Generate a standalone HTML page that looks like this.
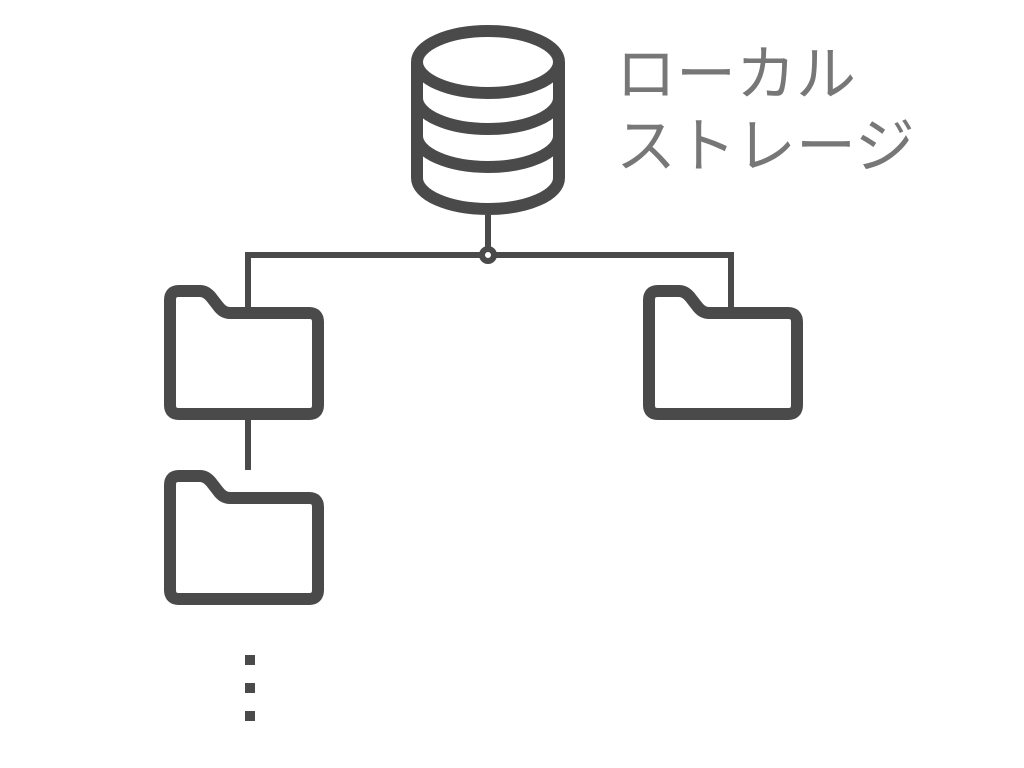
<!DOCTYPE html>
<html><head><meta charset="utf-8"><style>
html,body{margin:0;padding:0;background:#fff;width:1024px;height:768px;overflow:hidden}
.t{position:absolute;left:616px;font-family:"Liberation Sans","Noto Sans CJK JP",sans-serif;font-size:60px;color:#777;line-height:1;letter-spacing:0px}
</style></head><body>
<svg width="1024" height="768" style="position:absolute;left:0;top:0">
<g fill="none" stroke="#4a4a4a" stroke-width="12" stroke-linejoin="round">
<ellipse cx="488" cy="62" rx="71" ry="31"/>
<path d="M417 62 V178 A71 31 0 0 0 559 178 V62"/>
<path d="M417 98 A71 31 0 0 0 559 98"/>
<path d="M417 136 A71 31 0 0 0 559 136"/>
<path d="M170 300 Q170 291 179 291 H200 Q206 291 211 297 L218 306 Q223 313 230 313 H309 Q318 313 318 322 V405 Q318 414 309 414 H179 Q170 414 170 405 Z"/>
<path d="M170 485 Q170 476 179 476 H200 Q206 476 211 482 L218 491 Q223 498 230 498 H309 Q318 498 318 507 V590 Q318 599 309 599 H179 Q170 599 170 590 Z"/>
<path d="M649 300 Q649 291 658 291 H679 Q685 291 690 297 L697 306 Q702 313 709 313 H788 Q797 313 797 322 V405 Q797 414 788 414 H658 Q649 414 649 405 Z"/>
</g>
<g fill="none" stroke="#4a4a4a" stroke-width="6">
<path d="M488 215 V249"/>
<path d="M248 307 V255 H482 M494 255 H731 V307"/>
<path d="M248 420 V470"/>
<circle cx="488" cy="255" r="6" fill="#fff"/>
</g>
<g fill="#4a4a4a">
<rect x="245" y="655" width="10" height="10"/>
<rect x="245" y="683" width="10" height="10"/>
<rect x="245" y="711" width="10" height="10"/>
</g>
</svg>
<div class="t" style="top:45px">ローカル</div>
<div class="t" style="top:117px">ストレージ</div>
</body></html>
